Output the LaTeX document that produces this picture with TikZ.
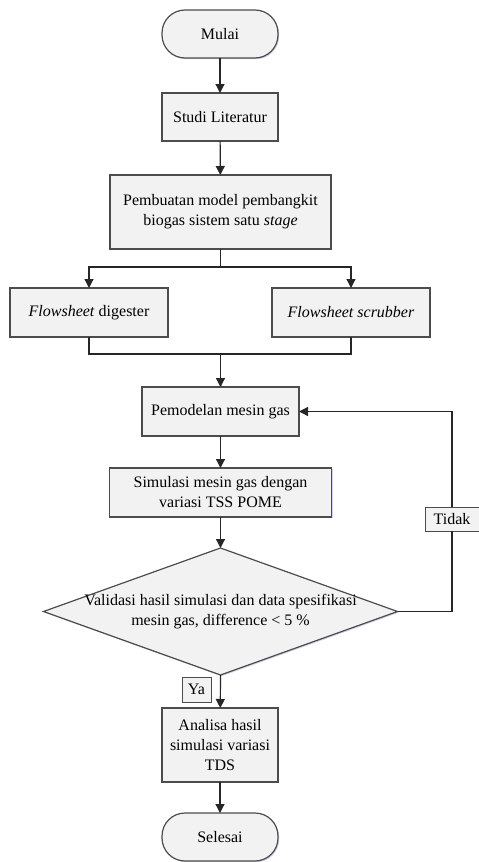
\documentclass[tikz,border=0pt]{standalone}
\usepackage{fontspec}
\setmainfont{Liberation Serif}
\usetikzlibrary{shapes.geometric, arrows.meta, shadows}

\tikzset{
    kotak/.style={draw=black!70, fill=black!5, line width=1.2pt, align=center, inner sep=2pt, outer sep=0pt,
        drop shadow={shadow xshift=1.2pt, shadow yshift=-1.2pt, fill=blue!40!gray, opacity=0.25}},
    terminal/.style={kotak, rounded corners=23pt, minimum width=116pt, minimum height=48pt},
    keputusan/.style={kotak, diamond, inner sep=0pt, minimum width=354pt, minimum height=127pt},
    catatan/.style={draw=black!70, fill=black!5, line width=1pt, inner sep=0pt, outer sep=0pt},
    alur/.style={->, line width=1.2pt, black!85}
}

\begin{document}
\begin{tikzpicture}[x=1pt, y=-1pt, >={Triangle[length=9pt, width=9pt]}, font=\fontsize{16}{20}\selectfont]
    \useasboundingbox (0,0) rectangle (479,862);

    % Simpul utama
    \node[terminal] (mulai) at (220,34) {Mulai};
    \node[kotak, minimum width=116pt, minimum height=48pt] (studi) at (220,117) {Studi Literatur};
    \node[kotak, minimum width=221pt, minimum height=74pt] (model) at (220.5,212) {Pembuatan model pembangkit\\biogas sistem satu \textit{stage}};
    \node[kotak, minimum width=158pt, minimum height=49pt] (digester) at (89,312.5) {\textit{Flowsheet} digester};
    \node[kotak, minimum width=158pt, minimum height=49pt] (scrubber) at (351,312.5) {\textit{Flowsheet scrubber}};
    \node[kotak, minimum width=157pt, minimum height=49pt] (pemodelan) at (220.5,411.5) {Pemodelan mesin gas};
    \node[kotak, minimum width=222pt, minimum height=49pt] (simulasi) at (220.5,492.5) {Simulasi mesin gas dengan\\variasi TSS POME};
    \node[keputusan] (validasi) at (220.5,611.5) {};
    \node[align=center] (teksvalidasi) at (validasi) {Validasi hasil simulasi dan data spesifikasi\\mesin gas, difference < 5 \%};
    \node[kotak, minimum width=116pt, minimum height=74pt] (analisa) at (220,745) {Analisa hasil\\simulasi variasi\\TDS};
    \node[terminal] (selesai) at (220,837) {Selesai};

    % Label keputusan
    \node[catatan, minimum width=54pt, minimum height=24pt] (tidak) at (452,519) {Tidak};
    \node[catatan, minimum width=29pt, minimum height=25pt] (ya) at (196.5,689.5) {Ya};

    % Percabangan dan penggabungan
    \coordinate (cabang) at (220.5,267);
    \coordinate (gabung) at (220.5,354);

    % Garis alur
    \draw[alur] (mulai) -- (studi);
    \draw[alur] (studi) -- (model);
    \draw[alur, -] (model) -- (cabang);
    \draw[alur] (cabang) -| (digester);
    \draw[alur] (cabang) -| (scrubber);
    \draw[alur, -] (digester) |- (gabung) -| (scrubber);
    \draw[alur] (gabung) -- (pemodelan);
    \draw[alur] (pemodelan) -- (simulasi);
    \draw[alur] (simulasi) -- (validasi);
    \draw[alur, -] (validasi.east) -| (tidak);
    \draw[alur] (tidak) |- (pemodelan);
    \draw[alur] (validasi.south) -- (analisa);
    \draw[alur] (analisa) -- (selesai);
\end{tikzpicture}
\end{document}
